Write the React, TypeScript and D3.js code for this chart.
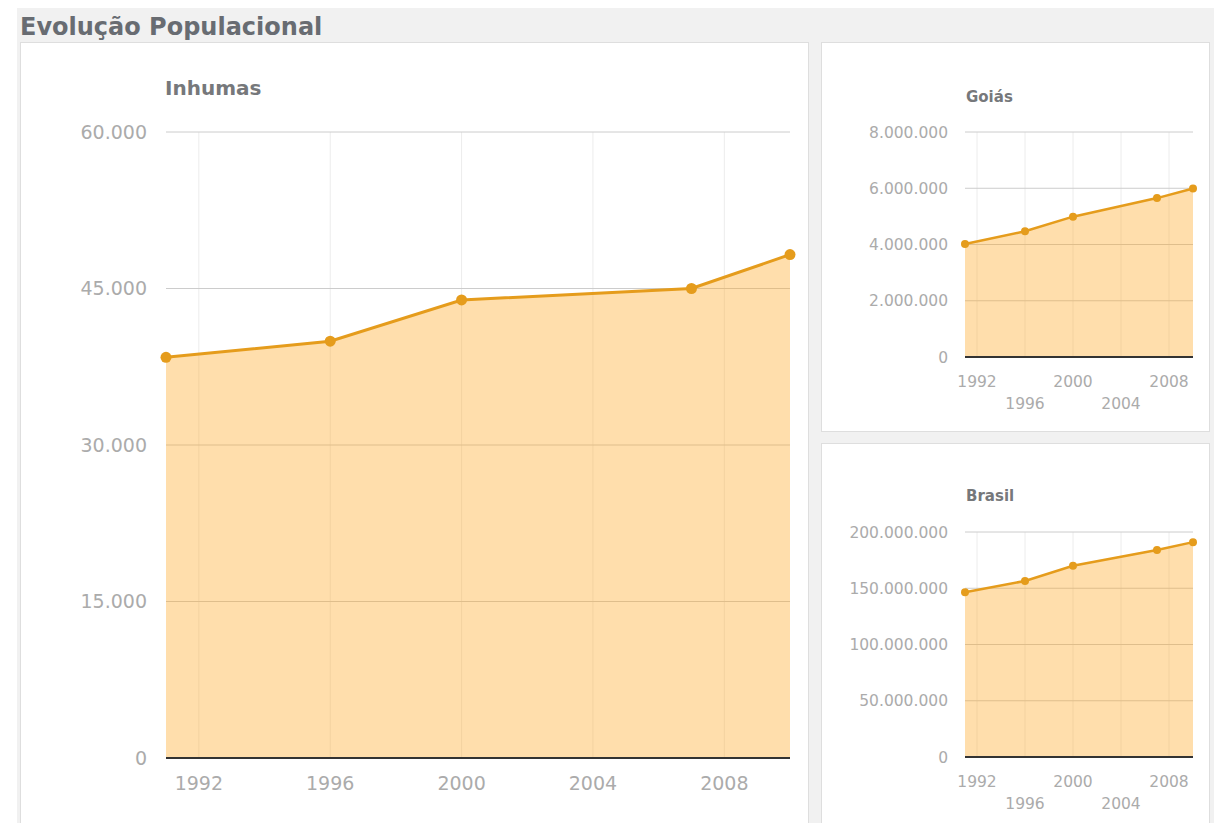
import React from "react";
import * as d3 from "d3";

const years = [1991, 1996, 2000, 2007, 2010];
const inhumasValues = [38400, 39950, 43900, 45000, 48250];
const goiasValues = [4020000, 4470000, 4990000, 5650000, 5990000];
const brasilValues = [146500000, 156500000, 170000000, 184000000, 191000000];
const xTicks = [1992, 1996, 2000, 2004, 2008];
const inhumasTicks = [0, 15000, 30000, 45000, 60000];
const goiasTicks = [0, 2000000, 4000000, 6000000, 8000000];
const brasilTicks = [0, 50000000, 100000000, 150000000, 200000000];

const ptBR = d3.formatLocale({ thousands: ".", grouping: [3], decimal: ",", currency: ["R$", ""] });
const fmt = ptBR.format(",");

const LINE = "#e59c1c";
const AREA = "#ffa726";
const FONT = "'DejaVu Sans', Verdana, sans-serif";

type ChartProps = {
  title: string;
  values: number[];
  ticks: number[];
  left: number;
  top: number;
  width: number;
  height: number;
  titleX: number;
  titleY: number;
  titleSize: number;
  labelSize: number;
  labelGap: number;
  stagger: boolean;
  radius: number;
  lineWidth: number;
};

function Chart(p: ChartProps) {
  const x = d3.scaleLinear().domain([1991, 2010]).range([p.left, p.left + p.width]);
  const y = d3
    .scaleLinear()
    .domain([0, p.ticks[p.ticks.length - 1]])
    .range([p.top + p.height, p.top]);
  const pts = years.map((yr, i) => [yr, p.values[i]] as [number, number]);
  const area = d3
    .area<[number, number]>()
    .x((d) => x(d[0]))
    .y0(y(0))
    .y1((d) => y(d[1]))(pts);
  const line = d3
    .line<[number, number]>()
    .x((d) => x(d[0]))
    .y((d) => y(d[1]))(pts);
  const base = y(0);
  return (
    <g>
      <text x={p.titleX} y={p.titleY} fontFamily={FONT} fontWeight="bold" fontSize={p.titleSize} fill="#76787b">
        {p.title}
      </text>
      {xTicks.map((t) => (
        <line key={"v" + t} x1={x(t)} x2={x(t)} y1={p.top} y2={base} stroke="#ececec" strokeWidth={1} />
      ))}
      {p.ticks
        .filter((t) => t > 0)
        .map((t) => (
          <line key={"h" + t} x1={p.left} x2={p.left + p.width} y1={y(t)} y2={y(t)} stroke="#cccccc" strokeWidth={1} />
        ))}
      <path d={area || ""} fill={AREA} fillOpacity={0.38} />
      <line x1={p.left} x2={p.left + p.width} y1={base} y2={base} stroke="#333" strokeWidth={2} />
      <path d={line || ""} fill="none" stroke={LINE} strokeWidth={p.lineWidth} />
      {pts.map((d, i) => (
        <circle key={i} cx={x(d[0])} cy={y(d[1])} r={p.radius} fill={LINE} />
      ))}
      {p.ticks.map((t) => (
        <text
          key={"yl" + t}
          x={p.left - p.labelGap}
          y={y(t)}
          dy="0.36em"
          textAnchor="end"
          fontFamily={FONT}
          fontSize={p.labelSize}
          fill="#ababab"
        >
          {fmt(t)}
        </text>
      ))}
      {xTicks.map((t, i) => (
        <text
          key={"xl" + t}
          x={x(t)}
          y={p.stagger ? base + (i % 2 === 0 ? 30 : 52) : base + 32}
          textAnchor="middle"
          fontFamily={FONT}
          fontSize={p.labelSize}
          fill="#ababab"
        >
          {t}
        </text>
      ))}
    </g>
  );
}

export default function App() {
  return (
    <svg
      width={1214}
      height={823}
      style={{ position: "absolute", left: 0, top: 0, display: "block", background: "#ffffff" }}
    >
      <rect x={17} y={8} width={1197} height={815} fill="#f1f1f1" />
      <text x={20} y={35} fontFamily={FONT} fontWeight="bold" fontSize={24} fill="#686c72">
        Evolução Populacional
      </text>
      <rect x={20.5} y={42.5} width={788} height={800} fill="#ffffff" stroke="#dedede" />
      <rect x={821.5} y={42.5} width={388} height={389} fill="#ffffff" stroke="#dedede" />
      <rect x={821.5} y={443.5} width={388} height={400} fill="#ffffff" stroke="#dedede" />
      <Chart
        title="Inhumas"
        values={inhumasValues}
        ticks={inhumasTicks}
        left={166}
        top={132}
        width={624}
        height={626}
        titleX={165}
        titleY={95}
        titleSize={20}
        labelSize={19}
        labelGap={19}
        stagger={false}
        radius={5.5}
        lineWidth={3}
      />
      <Chart
        title="Goiás"
        values={goiasValues}
        ticks={goiasTicks}
        left={965}
        top={132}
        width={228}
        height={225}
        titleX={966}
        titleY={102}
        titleSize={15}
        labelSize={15.5}
        labelGap={17}
        stagger={true}
        radius={4}
        lineWidth={2.5}
      />
      <Chart
        title="Brasil"
        values={brasilValues}
        ticks={brasilTicks}
        left={965}
        top={532}
        width={228}
        height={225}
        titleX={966}
        titleY={501}
        titleSize={15}
        labelSize={15.5}
        labelGap={17}
        stagger={true}
        radius={4}
        lineWidth={2.5}
      />
    </svg>
  );
}
